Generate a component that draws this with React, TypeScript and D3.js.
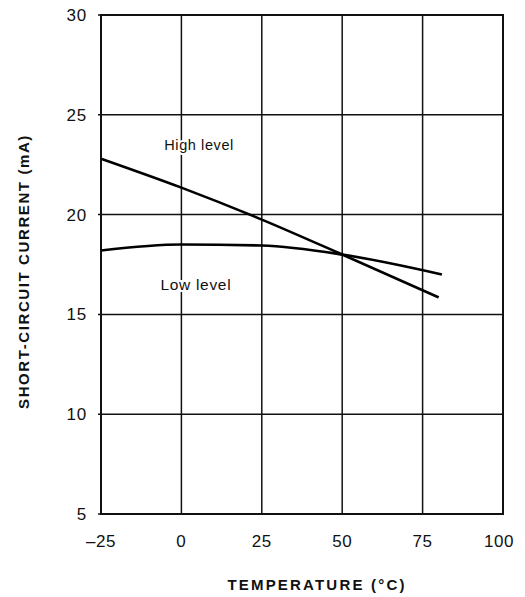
import * as d3 from "d3";

const WIDTH = 525;
const HEIGHT = 597;
const MARGIN = { top: 15, right: 22, bottom: 83, left: 101 };

const temps = [-25, 0, 25, 50, 80];
const highLevel = [22.8, 21.35, 19.75, 18.0, 15.85];
const lowTemps = [-25, 0, 25, 50, 81];
const lowLevel = [18.2, 18.5, 18.45, 18.0, 17.0];

const xTicks = [-25, 0, 25, 50, 75, 100];
const yTicks = [5, 10, 15, 20, 25, 30];

const FONT = "'Liberation Sans', Arial, sans-serif";

export default function App() {
  const x = d3
    .scaleLinear()
    .domain([-25, 100])
    .range([MARGIN.left, WIDTH - MARGIN.right]);
  const y = d3
    .scaleLinear()
    .domain([5, 30])
    .range([HEIGHT - MARGIN.bottom, MARGIN.top]);

  const line = d3
    .line<[number, number]>()
    .x((d) => x(d[0]))
    .y((d) => y(d[1]))
    .curve(d3.curveMonotoneX);

  const highPts = temps.map((t, i) => [t, highLevel[i]] as [number, number]);
  const lowPts = lowTemps.map((t, i) => [t, lowLevel[i]] as [number, number]);

  return (
    <svg
      width={WIDTH}
      height={HEIGHT}
      style={{ position: "absolute", left: 0, top: 0, background: "white" }}
    >
      {/* grid */}
      {xTicks.map((t) => (
        <line
          key={"gx" + t}
          x1={x(t)}
          x2={x(t)}
          y1={y(30)}
          y2={y(5)}
          stroke="#111"
          strokeWidth={1.5}
        />
      ))}
      {yTicks.map((t) => (
        <line
          key={"gy" + t}
          x1={x(-25) - 3}
          x2={x(100)}
          y1={y(t)}
          y2={y(t)}
          stroke="#111"
          strokeWidth={1.5}
        />
      ))}
      <rect
        x={x(-25)}
        y={y(30)}
        width={x(100) - x(-25)}
        height={y(5) - y(30)}
        fill="none"
        stroke="#111"
        strokeWidth={2}
      />

      {/* curves */}
      <path d={line(highPts) ?? ""} fill="none" stroke="#000" strokeWidth={2.6} />
      <path d={line(lowPts) ?? ""} fill="none" stroke="#000" strokeWidth={2.6} />

      {/* curve labels with a white backing, as the grid breaks behind them */}
      <text
        x={x(5.5)}
        y={y(23.25)}
        fontFamily={FONT}
        fontSize={14.5}
        letterSpacing={0.6}
        textAnchor="middle"
        fill="#111"
        stroke="white"
        strokeWidth={4}
        paintOrder="stroke"
      >
        High level
      </text>
      <text
        x={x(4.5)}
        y={y(16.2)}
        fontFamily={FONT}
        fontSize={15.5}
        letterSpacing={0.7}
        textAnchor="middle"
        fill="#111"
        stroke="white"
        strokeWidth={4}
        paintOrder="stroke"
      >
        Low level
      </text>

      {/* y tick labels */}
      {yTicks.map((t) => (
        <text
          key={"ly" + t}
          x={87}
          y={y(t) + 6}
          fontFamily={FONT}
          fontSize={17}
          letterSpacing={0.8}
          textAnchor="end"
          fill="#111"
        >
          {t}
        </text>
      ))}

      {/* x tick labels */}
      {xTicks.map((t) => (
        <text
          key={"lx" + t}
          x={x(t) - (t === 100 ? 4 : 0)}
          y={y(5) + 33}
          fontFamily={FONT}
          fontSize={17}
          letterSpacing={0.6}
          textAnchor="middle"
          fill="#111"
        >
          {t < 0 ? "\u2013" + Math.abs(t) : t}
        </text>
      ))}

      <text
        x={317}
        y={590}
        fontFamily={FONT}
        fontSize={15}
        fontWeight="bold"
        letterSpacing={2.2}
        textAnchor="middle"
        fill="#111"
      >
        TEMPERATURE (°C)
      </text>
      <text
        transform={`translate(29, ${y(17.75) + 12}) rotate(-90)`}
        fontFamily={FONT}
        fontSize={15}
        fontWeight="bold"
        letterSpacing={1.6}
        textAnchor="middle"
        fill="#111"
      >
        SHORT-CIRCUIT CURRENT (mA)
      </text>
    </svg>
  );
}
